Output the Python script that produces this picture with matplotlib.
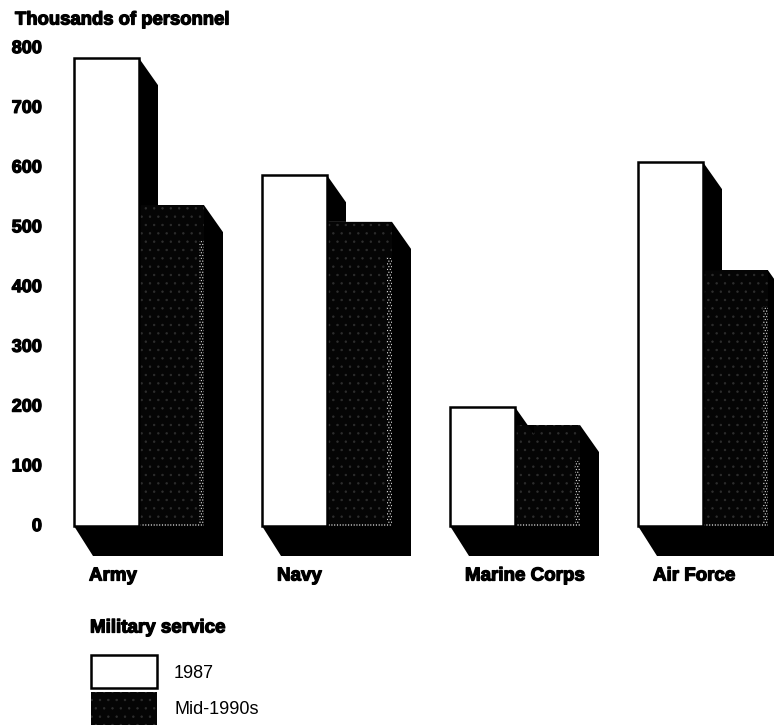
"""Military personnel by service, 1987 vs mid-1990s, pseudo-3D bars."""

import matplotlib
matplotlib.use("Agg")
import matplotlib.pyplot as plt
import matplotlib.patheffects as pe
from matplotlib.patches import Rectangle

services = ["Army", "Navy", "Marine Corps", "Air Force"]
values_1987 = [783, 587, 199, 609]
values_mid90s = [537, 509, 169, 428]
y_ticks = [0, 100, 200, 300, 400, 500, 600, 700, 800]
legend_labels = ["1987", "Mid-1990s"]

W, H = 774, 725
PX_X = 188.0  # pixels per category
PX_Y = 0.5975  # pixels per thousand
X0, Y0 = 74, 526  # pixel position of first bar / zero line

plt.rcParams["font.family"] = ["Liberation Sans", "DejaVu Sans"]
plt.rcParams["hatch.linewidth"] = 0.5

fig = plt.figure(figsize=(W / 100, H / 100), dpi=100)
ax = fig.add_axes([0, 0, 1, 1])
ax.set_xlim(-X0 / PX_X, (W - X0) / PX_X)
ax.set_ylim((Y0 - H) / PX_Y, Y0 / PX_Y)
ax.axis("off")

bar_w = 65 / PX_X
dx = 19 / PX_X
dy = 27 / PX_Y
floor = 30 / PX_Y
strip_x = 5 / PX_X
strip_y = 3 / PX_Y
DARK = "#050505"
fat = [pe.withStroke(linewidth=0.9, foreground="black")]


def label(x, y, s, size=13.5, weight="bold", ha="left"):
    txt = ax.text(x, y, s, fontsize=size, fontweight=weight, va="center", ha=ha, color="black")
    if weight == "bold":
        txt.set_path_effects(fat)


def dark_face(x, w, h, bottom=0):
    # speckled dark front, lighter along the right and bottom edges
    ax.add_patch(Rectangle((x, bottom), w, h, facecolor=DARK, edgecolor="#2e2e2e", hatch="..",
                           lw=0, zorder=3))
    ax.add_patch(Rectangle((x + w - strip_x, bottom), strip_x, h - 60, facecolor=DARK,
                           edgecolor="#e0e0e0", hatch="......", lw=0, zorder=3.2))
    ax.add_patch(Rectangle((x, bottom), w, strip_y, facecolor=DARK, edgecolor="#f0f0f0",
                           hatch="......", lw=0, zorder=3.2))


for i, (a, b) in enumerate(zip(values_1987, values_mid90s)):
    left = float(i)
    mid = left + bar_w
    # floor under both bars
    ax.fill([left, left + dx, mid + bar_w + dx, mid + bar_w],
            [0, -floor, -floor, 0], color="black", lw=0, zorder=1)
    # depth of the dark bar: top and right side
    ax.fill([mid, mid + bar_w, mid + bar_w + dx, mid + bar_w + dx, mid + bar_w, mid],
            [b, b, b - dy, -floor, -floor, 0], color="black", lw=0, zorder=2)
    # depth of the white bar, falling on the dark one
    ax.fill([mid, mid + dx, mid + dx, mid],
            [a, a - dy, b, b], color="black", lw=0, zorder=3.5)
    ax.bar(left, a, bar_w, align="edge", facecolor="white", edgecolor="black", lw=1.8, zorder=4)
    dark_face(mid, bar_w, b)
    label(left + 15 / PX_X, -50 / PX_Y, services[i])

for t in y_ticks:
    label(-32 / PX_X, t - 1, str(t), size=13, ha="right")

label(-59 / PX_X, (Y0 - 20) / PX_Y, "Thousands of personnel", size=13.3)
label(16 / PX_X, (Y0 - 628) / PX_Y, "Military service")

# legend boxes
lx, lw_ = 17 / PX_X, 66 / PX_X
ax.add_patch(Rectangle((lx, (Y0 - 688) / PX_Y), lw_, 33 / PX_Y, facecolor="white",
                       edgecolor="black", lw=1.8))
ax.add_patch(Rectangle((lx, (Y0 - 725) / PX_Y), lw_, 33 / PX_Y, facecolor=DARK,
                       edgecolor="#2e2e2e", hatch="..", lw=0))
label(100 / PX_X, (Y0 - 674) / PX_Y, legend_labels[0], size=13, weight="normal")
label(100 / PX_X, (Y0 - 710) / PX_Y, legend_labels[1], size=13, weight="normal")

fig.savefig("out.png", dpi=100)
plt.close(fig)
